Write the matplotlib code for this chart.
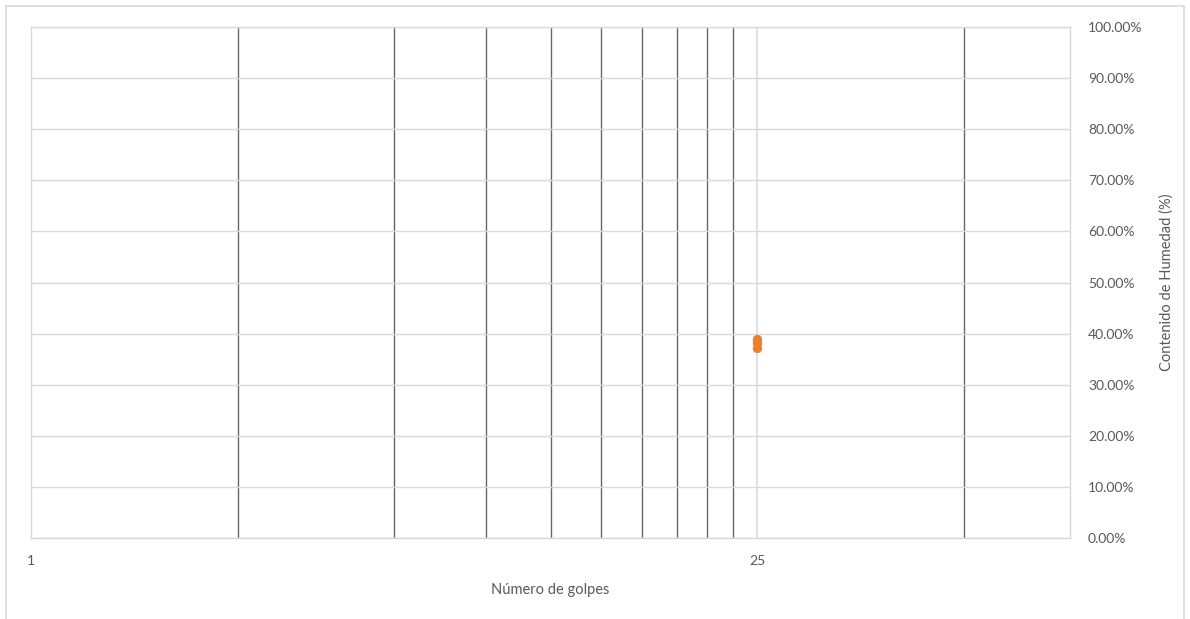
import numpy as np
import matplotlib.pyplot as plt
from matplotlib.patches import Rectangle

golpes = [25, 25, 25]
humedad = [0.389, 0.381, 0.372]

x_major = [1, 25]
x_minor = [2.5, 5, 7.5, 10, 12.5, 15, 17.5, 20, 22.5, 62.5]
y_ticks = np.arange(0, 1.01, 0.1)

plt.rcParams['font.family'] = ['Lato', 'DejaVu Sans']

fig = plt.figure(figsize=(11.9, 6.19), dpi=100)
ax = fig.add_axes([31/1190, 81/619, 1039/1190, 511/619])

# marco exterior del grafico
fig.patches.append(Rectangle((6/1190, -0.01), 1178/1190, 1 - 6/619 + 0.01,
                             transform=fig.transFigure, fill=False,
                             edgecolor='#d9d9d9', lw=1.2))

ax.set_xscale('log')
ax.set_xlim(1, 100)
ax.set_ylim(0, 1)

for v in x_minor:
    ax.axvline(v, color='#666666', lw=1.0, zorder=1)
for v in x_major:
    ax.axvline(v, color='#d9d9d9', lw=1.1, zorder=1)
for v in y_ticks:
    ax.axhline(v, color='#d9d9d9', lw=1.0, zorder=1)

ax.scatter(golpes, humedad, s=45, color='#ED7D31', zorder=3, linewidths=0)

ax.set_xticks(x_major)
ax.set_xticks([], minor=True)
ax.set_xticklabels(['1', '25'])
ax.yaxis.tick_right()
ax.yaxis.set_label_position('right')
ax.set_yticks(y_ticks)
ax.set_yticklabels(['%.2f%%' % (v * 100) for v in y_ticks])
ax.tick_params(length=0, labelsize=10, colors='#595959')
ax.tick_params(axis='x', pad=12)
ax.tick_params(axis='y', pad=13)

ax.set_xlabel('Número de golpes', fontsize=10.5, color='#595959', labelpad=12)
ax.set_ylabel('Contenido de Humedad (%)', fontsize=10.5, color='#595959', labelpad=12)

for s in ax.spines.values():
    s.set_color('#d9d9d9')
    s.set_linewidth(1.0)

fig.savefig('out.png', dpi=100)
